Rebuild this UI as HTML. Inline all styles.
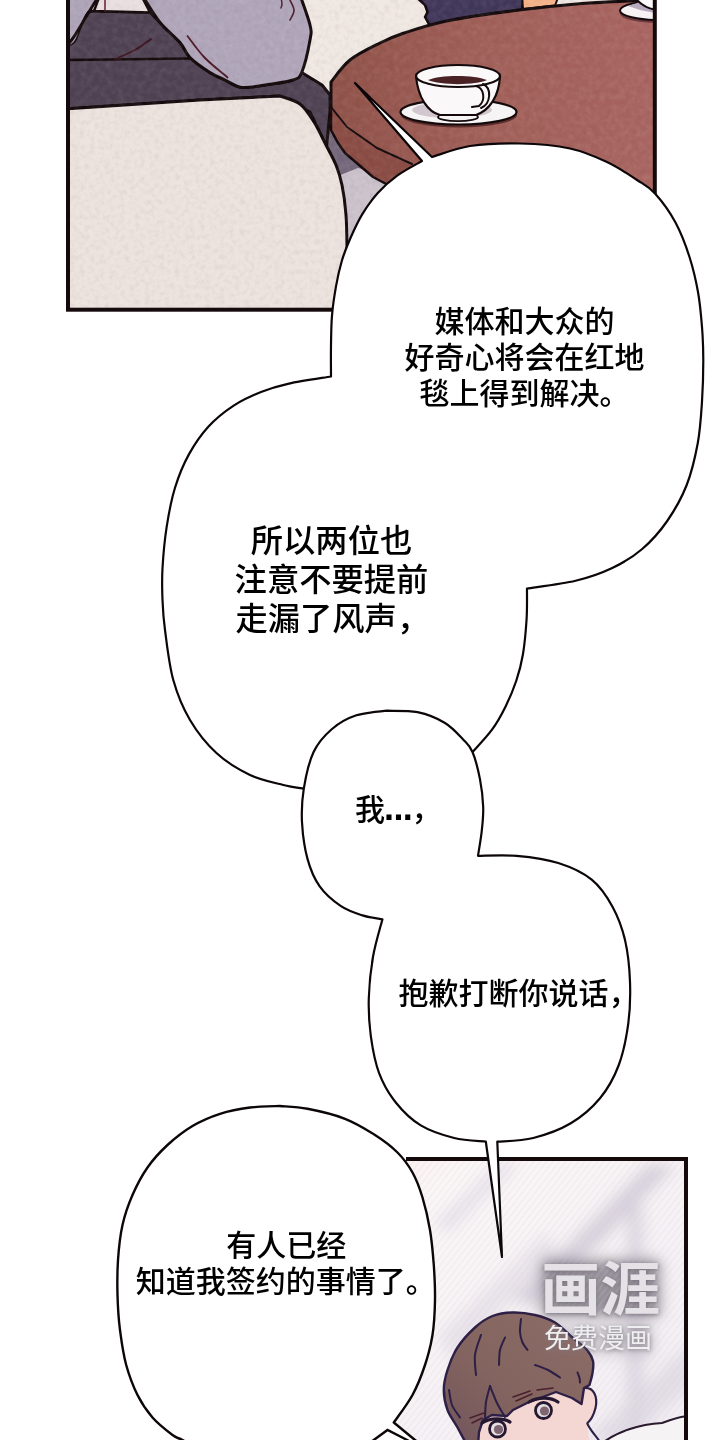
<!DOCTYPE html>
<html lang="zh-CN">
<head>
<meta charset="utf-8">
<title>漫画</title>
<style>
html,body{margin:0;padding:0;background:#fff;}
body{width:720px;height:1440px;overflow:hidden;position:relative;font-family:"Liberation Sans","Noto Sans CJK SC",sans-serif;}
svg{position:absolute;left:0;top:0;display:block}
.t{font-family:"Liberation Sans","Noto Sans CJK SC",sans-serif;font-weight:500;font-size:30px;fill:#000;text-anchor:middle}
.dots{font-weight:700;font-size:36px;letter-spacing:-0.6px}
.ol{fill:none;stroke:#140a0c;stroke-linejoin:round;stroke-linecap:round}
</style>
</head>
<body>
<svg width="720" height="1440" viewBox="0 0 720 1440">
<defs>
  <clipPath id="cp1"><rect x="68" y="-10" width="587" height="319"/></clipPath>
  <clipPath id="cp2"><rect x="300" y="1159" width="386" height="300"/></clipPath>
  <linearGradient id="bg2" x1="0" y1="0" x2="1" y2="1">
    <stop offset="0" stop-color="#fcebe3"/>
    <stop offset="0.22" stop-color="#fbf6f6"/>
    <stop offset="1" stop-color="#f1edf3"/>
  </linearGradient>
  <linearGradient id="tbl" gradientUnits="userSpaceOnUse" x1="331" y1="0" x2="655" y2="0"><stop offset="0" stop-color="#8f5249"/><stop offset="0.45" stop-color="#a05f58"/><stop offset="1" stop-color="#a96561"/></linearGradient>
  <linearGradient id="hairg" gradientUnits="userSpaceOnUse" x1="560" y1="1315" x2="450" y2="1440"><stop offset="0" stop-color="#8b6b66"/><stop offset="0.55" stop-color="#84645f"/><stop offset="1" stop-color="#72565c"/></linearGradient>
  <filter id="grain" x="0" y="0" width="100%" height="100%" color-interpolation-filters="sRGB">
    <feTurbulence type="fractalNoise" baseFrequency="0.16" numOctaves="3" seed="7" result="n"/>
    <feColorMatrix in="n" type="matrix" values="0 0 0 0 1  0 0 0 0 0.97  0 0 0 0 0.94  1.2 0 0 0 -0.42"/>
  </filter>
  <filter id="grainD" x="0" y="0" width="100%" height="100%" color-interpolation-filters="sRGB">
    <feTurbulence type="fractalNoise" baseFrequency="0.2" numOctaves="3" seed="11" result="n"/>
    <feColorMatrix in="n" type="matrix" values="0 0 0 0 0.25  0 0 0 0 0.1  0 0 0 0 0.12  0 1.2 0 0 -0.5"/>
  </filter>
  <pattern id="hatch" width="5" height="5" patternUnits="userSpaceOnUse" patternTransform="rotate(-52)"><rect x="0" y="0" width="5" height="1.6" fill="#d4ccda"/></pattern>
  <filter id="blur8" x="-20%" y="-20%" width="140%" height="140%"><feGaussianBlur stdDeviation="7"/></filter>
  <filter id="blur3" x="-20%" y="-20%" width="140%" height="140%"><feGaussianBlur stdDeviation="2.2"/></filter>
</defs>

<!-- ================= TOP PANEL ================= -->
<g clip-path="url(#cp1)">
  <rect x="60" y="-10" width="600" height="330" fill="#efe8e3"/>
  <path d="M414.0,-5.0 L425.0,5.0 L427.5,12.0 L425.0,17.0 L430.0,26.0 L470.0,17.0 L522.0,9.5 L524.0,-5.0Z" fill="#40375a" stroke="#140a0c" stroke-width="2.5" stroke-linejoin="round"/>
  <path d="M522.0,-5.0 L523.0,9.0 L555.0,5.5 L559.0,-5.0Z" fill="#f6b288" stroke="#140a0c" stroke-width="2"/>
  <!-- floor -->
  <path d="M318.0,95.0 L340.0,95.0 L400.0,170.0 L360.0,230.0 L340.0,230.0 L318.0,150.0Z" fill="#74677b"/>
  <path d="M338.0,176.0 L358.0,168.0 L395.0,178.0 L360.0,240.0 L346.0,240.0Z" fill="#cbc2cc"/>
  <!-- table -->
  <path d="M331.0,82.0 C334.2,78.3 341.8,66.5 350.0,60.0 C358.2,53.5 371.0,47.5 380.0,43.0 C389.0,38.5 392.5,36.8 404.0,33.0 C415.5,29.2 430.5,24.2 449.0,20.5 C467.5,16.8 492.8,13.3 515.0,10.5 C537.2,7.7 561.2,5.2 582.0,3.5 C602.8,1.8 620.3,1.4 640.0,0.5 C659.7,-0.4 690.0,-1.6 700.0,-2.0 L700.0,330.0 L412.0,330.0 L412.0,164.0 L377.0,148.0 L347.0,127.0 L331.0,107.0Z" fill="url(#tbl)"/>
  <path d="M331.0,107.0 L347.0,127.0 L377.0,148.0 L412.0,164.0 L420.0,175.0 L390.0,187.0 L373.0,177.0 L345.0,153.0 L338.0,143.0 L331.0,130.0Z" fill="#8a4c44"/>
  <path d="M331.0,107.0 L347.0,127.0 L377.0,148.0 L412.0,164.0" class="ol" stroke-width="2"/>
  <path d="M331.0,107.0 L331.0,130.0 L338.0,143.0 L345.0,153.0 L373.0,177.0 L390.0,186.0" class="ol" stroke-width="2.5"/>
  <path d="M331.0,107.0 L331.0,82.0 C334.2,78.3 341.8,66.5 350.0,60.0 C358.2,53.5 371.0,47.5 380.0,43.0 C389.0,38.5 392.5,36.8 404.0,33.0 C415.5,29.2 430.5,24.2 449.0,20.5 C467.5,16.8 492.8,13.3 515.0,10.5 C537.2,7.7 561.2,5.2 582.0,3.5 C602.8,1.8 620.3,1.4 640.0,0.5 C659.7,-0.4 690.0,-1.6 700.0,-2.0" class="ol" stroke-width="3"/>
  <!-- dark band -->
  <path d="M66.0,46.0 C67.5,45.0 71.8,45.2 75.0,40.0 C78.2,34.8 81.8,19.8 85.0,15.0 C88.2,10.2 92.5,11.7 94.0,11.0 L150.0,12.5 C151.7,14.2 155.0,17.5 160.0,22.5 C165.0,27.5 175.0,36.7 180.0,42.5 C185.0,48.3 185.0,52.5 190.0,57.5 C195.0,62.5 204.2,68.8 210.0,72.5 C215.8,76.2 219.7,77.5 225.0,80.0 C230.3,82.5 234.8,86.8 242.0,87.5 C249.2,88.2 259.5,85.8 268.0,84.5 C276.5,83.2 287.4,82.0 293.0,80.0 C298.6,78.0 300.2,73.8 301.7,72.5 L322.0,85.0 L330.0,95.0 L330.0,112.0 L326.5,147.0 L310.0,112.0 L300.0,107.0 L280.0,96.0 L200.0,100.0 L66.0,109.0Z" fill="#4f4253" stroke="#140a0c" stroke-width="3" stroke-linejoin="round"/>
  <!-- sofa -->
  <path d="M66.0,109.0 L200.0,100.0 L280.0,96.0 C283.3,97.3 294.3,99.7 300.0,104.0 C305.7,108.3 309.7,115.2 314.0,122.0 C318.3,128.8 322.3,137.8 326.0,145.0 C329.7,152.2 333.3,158.3 336.0,165.0 C338.7,171.7 340.3,176.7 342.0,185.0 C343.7,193.3 345.2,204.2 346.0,215.0 C346.8,225.8 346.8,232.5 347.0,250.0 C347.2,267.5 347.0,308.3 347.0,320.0 L66.0,320.0Z" fill="#ece3de"/>
  <path d="M66.0,109.0 L200.0,100.0 L280.0,96.0 C283.3,97.3 294.3,99.7 300.0,104.0 C305.7,108.3 309.7,115.2 314.0,122.0 C318.3,128.8 322.3,137.8 326.0,145.0 C329.7,152.2 333.3,158.3 336.0,165.0 C338.7,171.7 340.3,176.7 342.0,185.0 C343.7,193.3 345.2,204.2 346.0,215.0 C346.8,225.8 346.8,232.5 347.0,250.0 C347.2,267.5 347.0,308.3 347.0,320.0" class="ol" stroke-width="3"/>
  <!-- sleeve -->
  <path d="M100.0,-5.0 L94.0,11.0 L150.0,12.5 L141.0,-5.0Z" fill="#e9dfe0" stroke="#140a0c" stroke-width="2.5"/>
  <path d="M105,-3 L105,11" class="ol" stroke-width="1.5" style="stroke:#5a1a2a"/>
  <path d="M60.0,-5.0 L100.0,-5.0 C97.5,-1.7 89.2,7.5 85.0,15.0 C80.8,22.5 78.2,34.8 75.0,40.0 C71.8,45.2 67.5,45.0 66.0,46.0 L60.0,46.0Z" fill="#afa5b9"/>
  <path d="M100,-5 C85,15 75,40 66,46" class="ol" stroke-width="3"/>
  <path d="M142.0,-5.0 C145.0,-0.4 153.7,14.6 160.0,22.5 C166.3,30.4 175.0,36.7 180.0,42.5 C185.0,48.3 185.0,52.5 190.0,57.5 C195.0,62.5 204.2,68.8 210.0,72.5 C215.8,76.2 219.7,77.5 225.0,80.0 C230.3,82.5 234.8,86.8 242.0,87.5 C249.2,88.2 259.5,85.8 268.0,84.5 C276.5,83.2 287.4,82.0 293.0,80.0 C298.6,78.0 298.9,79.2 301.7,72.5 C304.5,65.8 308.6,47.9 310.0,40.0 C311.4,32.1 311.7,32.5 310.0,25.0 C308.3,17.5 301.7,0.0 300.0,-5.0Z" fill="#b0a6ba" stroke="#140a0c" stroke-width="3" stroke-linejoin="round"/>
  <path d="M68.0,60.0 L190.0,58.5" class="ol" stroke-width="2.5"/>
  <path d="M187.5,36.0 C190.4,39.7 198.3,51.1 205.0,58.0 C211.7,64.9 223.8,74.2 227.5,77.5" class="ol" stroke-width="1.8" style="stroke:#4d1826"/>
  <path d="M151.0,39.0 C148.3,40.8 141.0,46.7 135.0,50.0 C129.0,53.3 118.3,57.5 115.0,59.0" class="ol" stroke-width="1.8" style="stroke:#3d1420"/>
  <path d="M289.0,-2.0 C289.8,0.0 293.8,6.3 294.0,10.0 C294.2,13.7 290.7,18.3 290.0,20.0" class="ol" stroke-width="1.6" style="stroke:#4d1826"/>
  <path d="M281.0,-2.0 C281.2,-1.0 282.0,2.3 282.0,4.0 C282.0,5.7 281.2,7.3 281.0,8.0" class="ol" stroke-width="1.4" style="stroke:#4d1826"/>
  <rect x="68" y="0" width="587" height="310" filter="url(#grain)" opacity="0.13"/>
  <rect x="68" y="0" width="587" height="310" filter="url(#grainD)" opacity="0.10"/>
  <!-- saucer 2 (top right) -->
  <ellipse cx="660" cy="13.500" rx="40" ry="9.500" fill="#6e3a3e"/>
  <ellipse cx="660" cy="10.500" rx="40" ry="9.500" fill="#f6f2f4" stroke="#140a0c" stroke-width="2"/>
  <path d="M628,6 L640,2 L660,4 L660,14 L640,10Z" fill="#b8abc0"/>
  <path d="M634,-4 Q642,8 657,10 L657,-4Z" fill="#fbf9fa" stroke="#140a0c" stroke-width="2"/>
  <!-- cup & saucer -->
  <ellipse cx="459" cy="115" rx="58" ry="12.5" fill="#5e2f2c"/>
  <ellipse cx="458.5" cy="112" rx="58" ry="12.5" fill="#f7f4f5" stroke="#140a0c" stroke-width="2.2"/>
  <ellipse cx="452" cy="110" rx="40" ry="8" fill="#c9bcc6" opacity="0.8"/>
  <ellipse cx="458" cy="117" rx="20" ry="4.2" fill="#f7f4f5" stroke="#140a0c" stroke-width="1.8"/>
  <path d="M416,76 C418,98 428,112 440,115 L476,115 C490,110 499,96 500,76 Z" fill="#faf8f9" stroke="#140a0c" stroke-width="2.2" stroke-linejoin="round"/>
  <ellipse cx="458" cy="76" rx="42" ry="11" fill="#faf8f9" stroke="#140a0c" stroke-width="2.2"/>
  <path d="M428,80 C440,74.500 474,74.500 487,80 C476,85.500 440,85.500 428,80Z" fill="#4a2226"/>
  <path d="M476,86 C484,88 486,100 479,106 L472,107" class="ol" stroke-width="2"/>
  <path d="M483,84 C492,88 491,104 481,108" class="ol" stroke-width="2"/>
</g>
<rect x="68" y="-10" width="586.8" height="319.7" fill="none" stroke="#140a0c" stroke-width="4"/>

<!-- ================= BOTTOM PANEL ================= -->
<g clip-path="url(#cp2)">
  <rect x="300" y="1159" width="386" height="300" fill="url(#bg2)"/>
  <g filter="url(#blur8)">
    <path d="M512,1300 L648,1165 L676,1165 L538,1306 Z" fill="#d0c8d6" opacity="0.8"/>
    <path d="M436,1222 L500,1163 L520,1163 L446,1234 Z" fill="#e3dde8" opacity="0.8"/>
    <path d="M440,1335 L545,1235 L560,1250 L450,1362 Z" fill="#e2dce6" opacity="0.7"/>
    <rect x="627" y="1205" width="16" height="250" fill="#d2ccd8" opacity="0.7"/>
    <path d="M585,1440 L690,1345 L690,1385 L625,1445Z" fill="#dcd6e0" opacity="0.7"/>
  </g>
  <g filter="url(#blur8)">
    <rect x="542" y="1260" width="118" height="56" fill="#7d7883" opacity="0.8"/>
    <rect x="543" y="1326" width="110" height="28" fill="#a19ca6" opacity="0.45"/>
  </g>
  <rect x="400" y="1159" width="290" height="290" fill="url(#hatch)" opacity="0.18"/>
  <!-- shirt -->
  <path d="M600,1445 C615,1432 640,1424 662,1423 C675,1418 684,1416 690,1416 L690,1445Z" fill="#f6f3f5" stroke="#2a1a2e" stroke-width="2"/>
  <!-- face -->
  <path d="M474,1400 L586,1386 C596,1388 598,1400 595,1410 C593,1418 589,1422 587,1424 L590,1446 L474,1446Z" fill="#f4d6d2"/>
  <path d="M584,1388 C594,1387 598,1397 595.500,1408 C593.500,1416 590,1421 587,1423.500" fill="none" stroke="#2d1f45" stroke-width="2.2"/>
  <path d="M587,1423 C590,1430 596,1436 600,1442" fill="none" stroke="#2d1f45" stroke-width="2"/>
  <!-- hair -->
  <path d="M467.5,1446.0 C465.8,1442.9 460.8,1433.5 457.5,1427.5 C454.2,1421.5 449.8,1416.2 447.5,1410.0 C445.2,1403.8 443.8,1396.7 443.8,1390.0 C443.8,1383.3 445.2,1377.1 447.5,1370.0 C449.8,1362.9 452.9,1354.6 457.5,1347.5 C462.1,1340.4 469.2,1332.8 475.0,1327.5 C480.8,1322.2 486.2,1318.5 492.5,1316.0 C498.8,1313.5 505.4,1312.7 512.5,1312.5 C519.6,1312.3 527.9,1313.3 535.0,1315.0 C542.1,1316.7 548.8,1318.8 555.0,1322.5 C561.2,1326.2 567.2,1332.9 572.5,1337.5 C577.8,1342.1 583.6,1346.1 587.0,1350.0 C590.4,1353.9 592.1,1357.2 593.0,1361.0 C593.9,1364.8 593.1,1369.0 592.5,1373.0 C591.9,1377.0 590.0,1383.0 589.5,1385.0 L584.0,1388.0 L581.5,1404.0 L572.0,1398.0 L556.0,1392.0 L540.0,1398.0 L527.0,1403.0 L513.0,1410.0 L507.0,1416.0 L492.0,1415.0 L483.0,1420.0 L479.0,1432.0 L478.0,1446.0Z" fill="url(#hairg)" stroke="#2d1f45" stroke-width="2.4" stroke-linejoin="round"/>
  <path d="M481.0,1335.0 C480.0,1338.3 475.8,1348.3 475.0,1355.0 C474.2,1361.7 475.8,1371.7 476.0,1375.0" fill="none" stroke="#2d1f45" stroke-width="2" stroke-linecap="round"/>
  <path d="M505.0,1337.5 C504.2,1339.6 501.0,1345.4 500.0,1350.0 C499.0,1354.6 499.2,1362.5 499.0,1365.0" fill="none" stroke="#2d1f45" stroke-width="2" stroke-linecap="round"/>
  <path d="M521.0,1319.0 C520.8,1321.2 519.8,1328.1 520.0,1332.0 C520.2,1335.9 521.2,1339.5 522.5,1342.5 C523.8,1345.5 526.7,1348.8 527.5,1350.0" fill="none" stroke="#2d1f45" stroke-width="2" stroke-linecap="round"/>
  <path d="M535.0,1365.0 C537.2,1365.8 543.8,1367.9 548.0,1370.0 C552.2,1372.1 558.0,1376.2 560.0,1377.5" fill="none" stroke="#2d1f45" stroke-width="2" stroke-linecap="round"/>
  <path d="M449.0,1390.0 C449.5,1392.5 450.2,1400.4 452.0,1405.0 C453.8,1409.6 458.7,1415.4 460.0,1417.5" fill="none" stroke="#2d1f45" stroke-width="2" stroke-linecap="round"/>
  <path d="M577.5,1372.5 C577.8,1373.4 579.1,1376.3 579.5,1378.0 C579.9,1379.7 579.9,1381.8 580.0,1382.5" fill="none" stroke="#2d1f45" stroke-width="2" stroke-linecap="round"/>
  <path d="M490.0,1386.0 C489.3,1388.7 486.8,1396.8 486.0,1402.0 C485.2,1407.2 485.2,1414.5 485.0,1417.0" fill="none" stroke="#2d1f45" stroke-width="2" stroke-linecap="round"/>
  <path d="M490.0,1386.0 C491.2,1388.8 494.5,1397.8 497.0,1403.0 C499.5,1408.2 503.7,1414.7 505.0,1417.0" fill="none" stroke="#2d1f45" stroke-width="2" stroke-linecap="round"/>
  <!-- eyes -->
  <circle cx="543.500" cy="1410.500" r="8" fill="#e6dde0" stroke="#241830" stroke-width="2.8"/>
  <circle cx="544.500" cy="1411" r="4.6" fill="#7d6672"/>
  <circle cx="497.500" cy="1429" r="8" fill="#e6dde0" stroke="#241830" stroke-width="2.8"/>
  <circle cx="498.500" cy="1429.500" r="4.6" fill="#7d6672"/>
  <path d="M529,1402 C538,1396.500 551,1397 558,1402" class="ol" stroke-width="3.2" style="stroke:#241830"/>
  <path d="M482,1423 C490,1417.500 503,1418 510,1422" class="ol" stroke-width="3.2" style="stroke:#241830"/>
  <path d="M513,1397 L530,1391 M516,1401 L532,1394 M537,1390 L553,1388 M470,1418 L484,1413 M472,1423 L482,1418" class="ol" stroke-width="1.6" style="stroke:#4a2030"/>
  <!-- watermark -->
  <g>
    <text transform="translate(600.5,1310.5) scale(1.03,1)" x="0" y="0" text-anchor="middle" font-size="58" font-weight="700" fill="#6d6872" filter="url(#blur3)" style="font-family:'Liberation Sans','Noto Sans CJK SC',sans-serif" opacity="0.8">画涯</text>
    <text transform="translate(600.5,1309.5) scale(1.03,1)" x="0" y="0" text-anchor="middle" font-size="58" font-weight="700" fill="#e4e2e6" style="font-family:'Liberation Sans','Noto Sans CJK SC',sans-serif">画涯</text>
    <text x="598.500" y="1348.500" text-anchor="middle" font-size="27" font-weight="400" fill="#7d7882" filter="url(#blur3)" style="font-family:'Liberation Sans','Noto Sans CJK SC',sans-serif">免费漫画</text>
    <text x="598" y="1347.500" text-anchor="middle" font-size="27" font-weight="400" fill="#efeef1" style="font-family:'Liberation Sans','Noto Sans CJK SC',sans-serif">免费漫画</text>
  </g>
</g>
<path d="M406,1159 L686,1159 L686,1445" fill="none" stroke="#140a0c" stroke-width="4"/>

<!-- ================= BUBBLES ================= -->
<path d="M355.0,83.0 L432.0,157.0 C438.3,155.2 455.3,148.2 470.0,146.0 C484.7,143.8 503.3,143.1 520.0,143.5 C536.7,143.9 555.5,145.4 570.0,148.5 C584.5,151.6 595.8,156.8 607.0,162.0 C618.2,167.2 629.0,174.8 637.0,180.0 C645.0,185.2 648.6,186.4 655.0,193.5 C661.4,200.6 669.8,211.9 675.5,222.5 C681.2,233.1 685.8,245.4 689.5,257.0 C693.2,268.6 695.9,280.3 698.0,292.0 C700.1,303.7 701.1,315.7 702.0,327.0 C702.9,338.3 703.3,347.6 703.3,360.0 C703.3,372.4 702.9,387.7 702.0,401.5 C701.1,415.3 700.3,429.1 697.8,443.0 C695.2,456.9 691.8,472.0 686.7,485.0 C681.6,498.0 674.6,510.3 667.2,521.0 C659.8,531.7 651.5,541.1 642.2,549.0 C633.0,556.9 622.8,563.0 611.7,568.3 C600.6,573.6 589.7,577.4 575.6,580.8 C561.5,584.2 535.1,587.2 527.0,588.5 C526.9,593.6 527.3,608.1 526.6,619.0 C525.9,629.9 524.7,643.7 523.0,654.0 C521.3,664.3 519.1,672.3 516.2,681.0 C513.3,689.7 509.6,698.3 505.6,706.4 C501.6,714.5 497.5,722.1 492.0,729.7 C486.5,737.3 475.8,748.3 472.5,752.0 L440.0,790.0 L330.0,800.0 L303.8,788.6 C300.4,788.0 292.3,787.3 283.3,785.0 C274.3,782.7 261.1,780.3 250.0,775.0 C238.9,769.7 226.7,762.5 216.7,753.3 C206.7,744.1 197.2,732.2 190.0,720.0 C182.8,707.8 177.5,695.0 173.3,680.0 C169.1,665.0 166.8,643.3 165.0,630.0 C163.2,616.7 162.9,610.3 162.5,600.0 C162.1,589.7 161.8,580.5 162.5,568.3 C163.2,556.1 164.6,540.1 166.7,526.7 C168.8,513.3 171.3,499.9 175.0,487.8 C178.7,475.8 183.3,464.6 188.9,454.4 C194.5,444.2 200.9,434.8 208.3,426.7 C215.7,418.6 224.5,411.6 233.3,405.8 C242.1,400.0 251.7,395.7 261.0,392.0 C270.3,388.3 277.2,386.2 288.9,383.6 C300.6,381.0 324.0,377.7 331.0,376.5 C331.0,371.2 330.8,354.8 331.0,344.7 C331.2,334.6 331.2,325.3 332.0,315.6 C332.8,305.9 334.4,295.5 336.0,286.4 C337.6,277.3 339.4,269.1 341.8,261.0 C344.2,252.9 347.2,245.6 350.6,237.8 C354.0,230.0 357.7,221.9 362.2,214.4 C366.7,206.9 372.0,199.5 377.8,193.0 C383.6,186.5 389.8,180.9 397.2,175.6 C404.6,170.3 417.9,163.4 422.0,161.0Z" fill="#fff" stroke="#0c0608" stroke-width="2.2" stroke-linejoin="round"/>
<path d="M387.0,710.7 C381.9,711.5 365.6,712.2 356.4,715.3 C347.2,718.3 339.1,722.9 332.0,729.0 C324.9,735.1 318.3,742.1 313.6,752.0 C308.9,761.9 305.7,776.9 303.8,788.6 C301.9,800.3 301.4,810.5 302.0,822.2 C302.6,833.9 304.6,848.2 307.5,858.9 C310.4,869.6 314.1,878.5 319.7,886.4 C325.3,894.3 333.9,901.4 341.0,906.2 C348.1,911.0 355.6,913.2 362.5,915.4 C369.4,917.6 379.1,918.7 382.4,919.4 C380.8,925.6 375.3,943.6 373.0,956.7 C370.7,969.9 369.2,985.1 368.8,998.3 C368.4,1011.5 369.1,1023.3 370.8,1035.8 C372.5,1048.3 375.0,1062.2 379.2,1073.3 C383.4,1084.4 388.9,1093.8 395.8,1102.5 C402.7,1111.2 411.1,1119.5 420.8,1125.4 C430.5,1131.3 443.4,1135.3 454.2,1138.0 C465.0,1140.7 480.5,1140.9 485.8,1141.5 L502.0,1257.0 L497.3,1141.7 C503.3,1141.1 521.0,1141.1 533.3,1138.0 C545.5,1134.9 559.7,1129.9 570.8,1123.3 C581.9,1116.7 592.0,1108.0 600.0,1098.3 C608.0,1088.6 614.1,1077.5 618.8,1065.0 C623.5,1052.5 626.4,1037.2 628.3,1023.3 C630.2,1009.4 630.5,995.6 630.0,981.7 C629.5,967.8 627.9,952.5 625.0,940.0 C622.1,927.5 618.0,916.8 612.5,906.7 C607.0,896.6 600.7,886.9 591.7,879.6 C582.7,872.3 570.8,867.0 558.3,863.0 C545.8,859.0 530.1,857.0 516.7,855.8 C503.3,854.6 484.4,855.8 478.0,855.8 C478.6,851.7 480.8,839.5 481.7,831.4 C482.6,823.3 483.5,815.7 483.2,807.0 C482.9,798.3 481.8,788.6 480.0,779.4 C478.2,770.2 475.3,758.6 472.5,752.0 C469.7,745.4 467.9,744.5 463.3,739.7 C458.7,734.9 452.6,727.6 445.0,723.0 C437.4,718.4 427.2,714.2 417.5,712.2 C407.8,710.2 392.1,711.0 387.0,710.7Z" fill="#fff" stroke="#0c0608" stroke-width="2.2" stroke-linejoin="round"/>
<path d="M280.0,1106.0 C275.0,1106.2 260.0,1106.2 250.0,1107.5 C240.0,1108.8 229.6,1110.7 220.0,1113.8 C210.4,1116.9 201.2,1120.8 192.5,1126.0 C183.8,1131.2 175.0,1138.1 167.5,1145.0 C160.0,1151.9 153.3,1159.2 147.5,1167.5 C141.7,1175.8 136.7,1185.4 132.5,1195.0 C128.3,1204.6 124.9,1214.2 122.5,1225.0 C120.1,1235.8 118.8,1248.3 118.0,1260.0 C117.2,1271.7 117.2,1283.3 117.5,1295.0 C117.8,1306.7 118.5,1318.3 120.0,1330.0 C121.5,1341.7 123.3,1354.2 126.2,1365.0 C129.2,1375.8 133.1,1386.2 137.5,1395.0 C141.9,1403.8 146.7,1410.8 152.5,1417.5 C158.3,1424.2 167.5,1431.2 172.5,1435.0 C177.5,1438.8 177.9,1437.5 182.5,1440.0 C187.1,1442.5 197.1,1448.3 200.0,1450.0 L440.0,1460.0 L415.0,1440.0 L393.8,1422.5 C396.9,1417.9 407.3,1404.6 412.5,1395.0 C417.7,1385.4 421.7,1375.0 425.0,1365.0 C428.3,1355.0 430.8,1345.8 432.5,1335.0 C434.2,1324.2 434.8,1311.7 435.0,1300.0 C435.2,1288.3 434.6,1276.7 433.8,1265.0 C432.9,1253.3 431.9,1241.2 430.0,1230.0 C428.1,1218.8 425.4,1207.1 422.5,1197.5 C419.6,1187.9 416.7,1180.0 412.5,1172.5 C408.3,1165.0 403.8,1158.8 397.5,1152.5 C391.2,1146.2 383.8,1140.6 375.0,1135.0 C366.2,1129.4 356.2,1123.1 345.0,1118.8 C333.8,1114.4 318.3,1110.9 307.5,1108.8 C296.7,1106.6 284.6,1106.5 280.0,1106.0Z" fill="#fff" stroke="#0c0608" stroke-width="2.4" stroke-linejoin="round"/>
<path d="M371.0,1442.0 L387.5,1430.0 L411.0,1442.0" fill="#fff" stroke="#0c0608" stroke-width="2.4" stroke-linejoin="miter"/>

<!-- ================= TEXT ================= -->
<text class="t" x="524.600" y="332">媒体和大众的</text>
<text class="t" x="524.600" y="367.800">好奇心将会在红地</text>
<text class="t" x="524.600" y="403.800">毯上得到解决。</text>

<text class="t" style="font-size:32.3px" x="331.500" y="552">所以两位也</text>
<text class="t" style="font-size:32.3px" x="331.500" y="590.700">注意不要提前</text>
<text class="t" style="font-size:32.3px" x="332.300" y="630.200">走漏了风声，</text>

<text class="t" style="text-anchor:start" x="355" y="819.500">我<tspan class="dots" dx="-1">...</tspan><tspan dx="-0.6">，</tspan></text>
<text class="t" x="518.500" y="1003.600">抱歉打断你说话，</text>

<text class="t" x="286.200" y="1256">有人已经</text>
<text class="t" x="285.800" y="1292">知道我签约的事情了。</text>
</svg>
</body>
</html>
